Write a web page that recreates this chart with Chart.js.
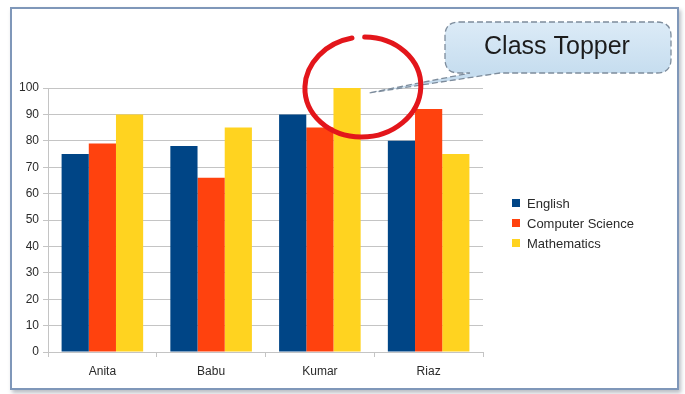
<!DOCTYPE html>
<html>
<head>
<meta charset="utf-8">
<title>Marks</title>
<script src="https://cdn.jsdelivr.net/npm/chart.js@4.4.1/dist/chart.umd.min.js"></script>
<style>
  html, body { margin: 0; padding: 0; background: #ffffff; }
  #frame {
    position: absolute; left: 10px; top: 7px; width: 665px; height: 379px;
    border: 2px solid #7f97b9; background: #ffffff;
    box-shadow: 2px 3px 4px rgba(60, 70, 90, 0.35);
  }
  #wrap { position: absolute; left: 0; top: 0; width: 685px; height: 394px; }
</style>
</head>
<body>
<div id="frame"></div>
<div id="wrap"><canvas id="marksChart"></canvas></div>
<script>
// students and their marks per subject
const students = ['Anita', 'Babu', 'Kumar', 'Riaz'];
const english = [75, 78, 90, 80];
const computerScience = [79, 66, 85, 92];
const mathematics = [90, 85, 100, 75];
const subjects = ['English', 'Computer Science', 'Mathematics'];
const subjectColors = ['#004586', '#ff420e', '#ffd320'];
const topperNote = 'Class Topper';

const TEXT = '#2a2a2a';
const GRID = '#c4c4c4';

// legend, callout and the red ring around the top score
const extras = {
    id: 'extras',
    afterDraw(chart) {
        const ctx = chart.ctx;
        const xs = chart.scales.x, ys = chart.scales.y;

        // legend
        ctx.save();
        ctx.font = '13px "Liberation Sans", Arial, sans-serif';
        ctx.textBaseline = 'middle';
        chart.data.datasets.forEach((ds, i) => {
            const y = 203 + i * 20;
            ctx.fillStyle = ds.backgroundColor;
            ctx.fillRect(512, y - 4, 8, 8);
            ctx.fillStyle = TEXT;
            ctx.fillText(ds.label, 527, y + 1);
        });
        ctx.restore();

        // top score: Kumar, Mathematics
        const bar = chart.getDatasetMeta(2).data[2];
        const tipX = bar.x + bar.width / 2 + 8;
        const tipY = ys.getPixelForValue(100) + 5;

        // callout bubble
        ctx.save();
        const bx = 445, by = 22, bw = 226, bh = 51, r = 14;
        const grad = ctx.createLinearGradient(0, by, 0, by + bh);
        grad.addColorStop(0, '#dcebf7');
        grad.addColorStop(1, '#c6ddef');
        ctx.beginPath();
        ctx.moveTo(bx + r, by);
        ctx.lineTo(bx + bw - r, by);
        ctx.quadraticCurveTo(bx + bw, by, bx + bw, by + r);
        ctx.lineTo(bx + bw, by + bh - r);
        ctx.quadraticCurveTo(bx + bw, by + bh, bx + bw - r, by + bh);
        ctx.lineTo(500, by + bh);
        ctx.lineTo(tipX, tipY);
        ctx.lineTo(470, by + bh);
        ctx.lineTo(bx + r, by + bh);
        ctx.quadraticCurveTo(bx, by + bh, bx, by + bh - r);
        ctx.lineTo(bx, by + r);
        ctx.quadraticCurveTo(bx, by, bx + r, by);
        ctx.closePath();
        ctx.fillStyle = grad;
        ctx.fill();
        ctx.setLineDash([6, 3]);
        ctx.lineWidth = 1.3;
        ctx.strokeStyle = '#7d8c9c';
        ctx.stroke();
        ctx.setLineDash([]);
        ctx.font = '25px "Liberation Sans", Arial, sans-serif';
        ctx.fillStyle = '#1c1c1c';
        ctx.textAlign = 'center';
        ctx.textBaseline = 'middle';
        ctx.fillText(topperNote, 557, 47);
        ctx.restore();

        // hand drawn ring
        ctx.save();
        const cx = xs.getPixelForValue(2) + 43, cy = tipY - 6;
        ctx.strokeStyle = '#e3161b';
        ctx.lineWidth = 5;
        ctx.lineCap = 'round';
        ctx.beginPath();
        ctx.ellipse(cx, cy, 58, 50, -0.08, -Math.PI / 2 + 0.1, Math.PI * 1.5 - 0.12);
        ctx.stroke();
        ctx.restore();
    }
};

new Chart(document.getElementById('marksChart'), {
    type: 'bar',
    data: {
        labels: students,
        datasets: [english, computerScience, mathematics].map((values, i) => ({
            label: subjects[i],
            data: values,
            backgroundColor: subjectColors[i],
            borderWidth: 0,
            categoryPercentage: 0.75,
            barPercentage: 1.0
        }))
    },
    options: {
        responsive: true,
        maintainAspectRatio: false,
        animation: false,
        layout: { padding: { left: 11, top: 88, right: 202, bottom: 15 } },
        plugins: {
            legend: { display: false },
            tooltip: { enabled: false }
        },
        scales: {
            x: {
                offset: true,
                afterFit: s => { s.height = 27; },
                grid: {
                    offset: true,
                    drawOnChartArea: true,
                    color: c => c.index === students.length ? GRID : 'rgba(0,0,0,0)',
                    tickColor: GRID,
                    tickLength: 5
                },
                border: { color: GRID },
                ticks: {
                    color: TEXT,
                    padding: 7,
                    font: { family: '"Liberation Sans", Arial, sans-serif', size: 12 }
                }
            },
            y: {
                min: 0,
                max: 100,
                afterFit: s => { s.width = 37; },
                grid: { color: GRID, tickColor: GRID, tickLength: 5 },
                border: { color: GRID },
                ticks: {
                    stepSize: 10,
                    color: TEXT,
                    padding: 4,
                    font: { family: '"Liberation Sans", Arial, sans-serif', size: 12 }
                }
            }
        }
    },
    plugins: [extras]
});
</script>
</body>
</html>
